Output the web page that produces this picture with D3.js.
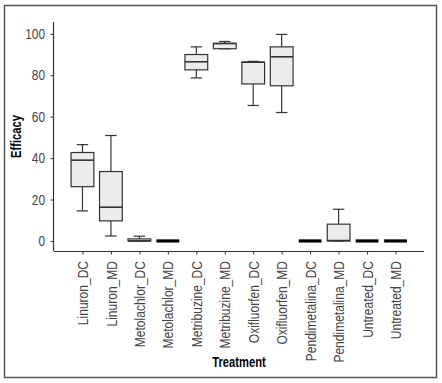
<!DOCTYPE html>
<html>
<head>
<meta charset="utf-8">
<script src="https://cdn.jsdelivr.net/npm/d3@7"></script>
<style>
  body { margin: 0; background: #fff; }
  text { font-family: "Liberation Sans", Arial, sans-serif; }
</style>
</head>
<body>
<div id="chart-area"></div>
<script>
// treatments and box stats
var treatments = ["Linuron_DC", "Linuron_MD", "Metolachlor_DC", "Metolachlor_MD",
  "Metribuzine_DC", "Metribuzine_MD", "Oxifluorfen_DC", "Oxifluorfen_MD",
  "Pendimetalina_DC", "Pendimetalina_MD", "Untreated_DC", "Untreated_MD"];
var lowWhisker = [14.5, 2.4, 0, 0, 78.7, 92.8, 65.4, 62, 0, 0, 0, 0];
var q1 = [26.2, 9.7, 0, 0, 82.6, 92.8, 75.8, 74.9, 0, 0, 0, 0];
var medians = [39, 16.3, 0, 0, 86.5, 95.3, 86.3, 88.9, 0, 0.2, 0, 0];
var q3 = [42.7, 33.5, 1.0, 0, 90, 95.4, 86.3, 93.7, 0, 8.1, 0, 0];
var highWhisker = [46.5, 50.9, 2.3, 0, 93.7, 96.3, 86.7, 99.7, 0, 15.3, 0, 0];
var yTicks = [0, 20, 40, 60, 80, 100];

var data = treatments.map((t, i) => ({
  name: t, lo: lowWhisker[i], q1: q1[i], med: medians[i], q3: q3[i], hi: highWhisker[i]
}));

var width = 442;
var height = 383;
var margin = { top: 22, right: 18, bottom: 132, left: 54 };
var chartWidth = width - margin.left - margin.right;
var chartHeight = height - margin.top - margin.bottom;
var squeeze = 0.82; // no narrow font installed, so squash text sideways

var svg = d3.select("#chart-area")
  .append("svg")
  .attr("width", width)
  .attr("height", height);

svg.append("rect")
  .attr("x", 4.5).attr("y", 5.5)
  .attr("width", 432).attr("height", 372)
  .attr("fill", "#fff")
  .attr("stroke", "#555")
  .attr("stroke-width", 1.5);

var g = svg.append("g")
  .attr("transform", "translate(" + margin.left + ", " + margin.top + ")");

var x = d3.scalePoint()
  .domain(treatments)
  .range([0, chartWidth])
  .padding(1);

var y = d3.scaleLinear()
  .domain([-4.85, 105.7])
  .range([chartHeight, 0]);

var boxW = x.step() * 0.8;
var ink = "#333";

var boxes = g.selectAll(".box")
  .data(data).enter()
  .append("g")
  .attr("class", "box")
  .attr("transform", d => "translate(" + x(d.name) + ",0)");

// whiskers
boxes.append("line")
  .attr("x1", 0).attr("x2", 0)
  .attr("y1", d => y(d.hi)).attr("y2", d => y(d.lo))
  .attr("stroke", ink).attr("stroke-width", 1.2);
boxes.append("line")
  .attr("x1", -boxW / 4).attr("x2", boxW / 4)
  .attr("y1", d => y(d.hi)).attr("y2", d => y(d.hi))
  .attr("stroke", ink).attr("stroke-width", 1.2);
boxes.append("line")
  .attr("x1", -boxW / 4).attr("x2", boxW / 4)
  .attr("y1", d => y(d.lo)).attr("y2", d => y(d.lo))
  .attr("stroke", ink).attr("stroke-width", 1.2);

boxes.append("rect")
  .attr("x", -boxW / 2)
  .attr("width", boxW)
  .attr("y", d => y(d.q3))
  .attr("height", d => y(d.q1) - y(d.q3))
  .attr("fill", "#ececec")
  .attr("stroke", ink)
  .attr("stroke-width", 1.2);

boxes.append("line")
  .attr("x1", -boxW / 2).attr("x2", boxW / 2)
  .attr("y1", d => y(d.med)).attr("y2", d => y(d.med))
  .attr("stroke", d => d.q3 - d.q1 < 0.5 ? "#000" : ink)
  .attr("stroke-width", d => d.q3 - d.q1 < 0.5 ? 3.2 : 1.6);

var bottomAxis = d3.axisBottom(x).tickSize(3.5).tickPadding(4);
var xAxis = g.append("g")
  .attr("transform", "translate(0, " + chartHeight + ")")
  .call(bottomAxis);
xAxis.select(".domain").attr("d", "M0,0.5H" + chartWidth).attr("stroke", ink).attr("stroke-width", 1.2);
xAxis.selectAll(".tick line").attr("stroke", ink);
xAxis.selectAll("text")
  .attr("font-size", "14.5px")
  .attr("fill", "#444")
  .attr("text-anchor", "end")
  .attr("dy", "0.35em")
  .attr("transform", "translate(0,10) rotate(-90) scale(0.83,1)")
  .attr("x", 0).attr("y", 0);

var leftAxis = d3.axisLeft(y).tickValues(yTicks).tickSize(3.5).tickPadding(5);
var yAxis = g.append("g").call(leftAxis);
yAxis.select(".domain").attr("d", "M-0.5," + chartHeight + "V0").attr("stroke", ink).attr("stroke-width", 1.2);
yAxis.selectAll(".tick line").attr("stroke", ink);
yAxis.selectAll("text")
  .attr("font-size", "14.5px")
  .attr("fill", "#444")
  .attr("x", 0)
  .attr("transform", "translate(-9,0) scale(" + squeeze + ",1)");

svg.append("text")
  .attr("transform", "translate(21," + (margin.top + chartHeight / 2) + ") rotate(-90) scale(0.8,1)")
  .attr("text-anchor", "middle")
  .attr("font-size", "14px")
  .attr("font-weight", "bold")
  .text("Efficacy");

svg.append("text")
  .attr("transform", "translate(" + (margin.left + chartWidth / 2) + ",367) scale(0.8,1)")
  .attr("text-anchor", "middle")
  .attr("font-size", "14px")
  .attr("font-weight", "bold")
  .text("Treatment");
</script>
</body>
</html>
